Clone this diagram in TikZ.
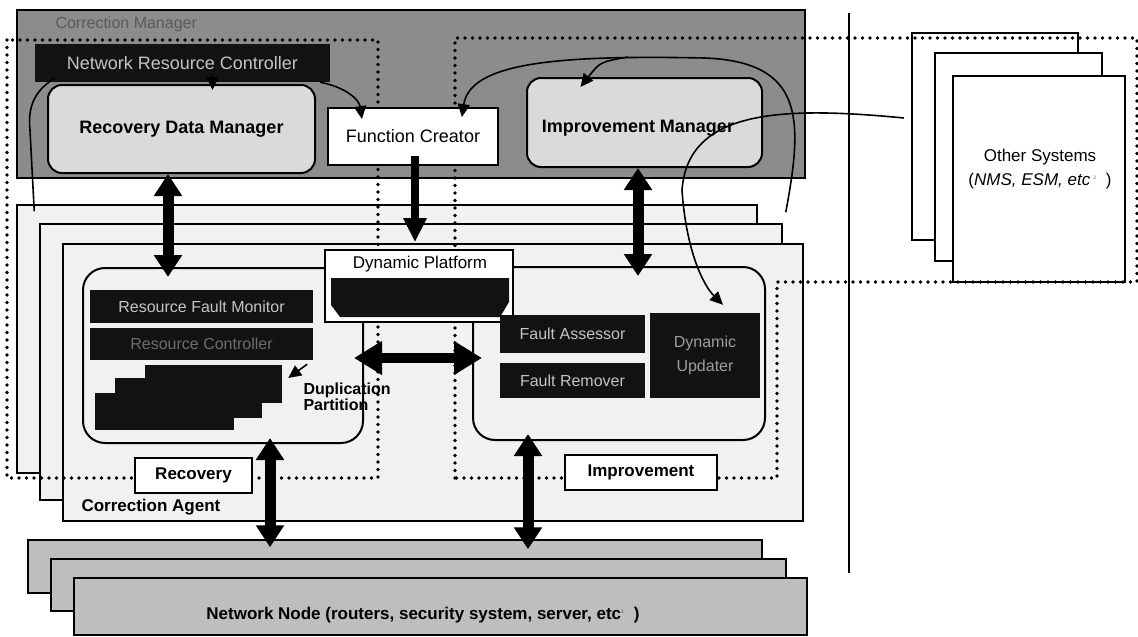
\documentclass[tikz,border=0pt]{standalone}
\usepackage{fontspec}
\setmainfont{Liberation Sans}
\usetikzlibrary{arrows.meta,calc}
\definecolor{cmgray}{HTML}{8C8C8C}
\definecolor{mgrlight}{HTML}{DADADA}
\definecolor{agentfill}{HTML}{F1F1F1}
\definecolor{nodegray}{HTML}{BEBEBE}
\definecolor{boxblack}{HTML}{121212}
\definecolor{boxtext}{HTML}{C4C4C4}
\definecolor{dimtext}{HTML}{6E6E6E}
\definecolor{titletext}{HTML}{5A5A5A}
\newcommand\fsz[2]{\fontsize{#1}{#2}\selectfont}
\begin{document}
\begin{tikzpicture}[x=1pt,y=-1pt,
  sz/.style 2 args={minimum width=#1, minimum height=#2, inner sep=0pt},
  cmbox/.style={draw=black, line width=2pt, fill=cmgray},
  agent/.style={draw=black, line width=1.5pt, fill=agentfill},
  netnode/.style={draw=black, line width=1.5pt, fill=nodegray},
  mgr/.style={draw=black, line width=2pt, fill=mgrlight, rounded corners=14pt},
  region/.style={draw=black, line width=2pt, rounded corners=22pt},
  whitebox/.style={draw=black, line width=1.8pt, fill=white},
  blackbox/.style={fill=boxblack, text=boxtext, font=\fsz{16}{19}},
  other/.style={draw=black, line width=2pt, fill=white},
  dotline/.style={line width=3.6pt, line cap=round, dash pattern=on 0pt off 7.5pt},
  bigdbl/.style={line width=11pt, {Triangle[length=22pt,width=27pt]}-{Triangle[length=22pt,width=27pt]}},
  bigone/.style={line width=8pt, -{Triangle[length=24pt,width=22pt]}},
  hdbl/.style={line width=10pt, {Triangle[length=28pt,width=32pt]}-{Triangle[length=28pt,width=32pt]}},
  thinarr/.style={line width=1.6pt, -{Triangle[length=13pt,width=12pt]}},
  thinline/.style={line width=1.6pt},
  lbl/.style={font=\fsz{17}{20}\bfseries},
  txt/.style={font=\fsz{17}{20}}
]
\useasboundingbox (0,0) rectangle (1138,637);

% Correction Manager background
\node[cmbox, sz={788}{168}] (cm) at (411,94) {};
\node[anchor=west, text=titletext, font=\fsz{16}{18}] (cmtitle) at (52,24) {Correction Manager};

% Correction Agent stack
\node[agent, sz={740}{268}] (a1) at (387,339) {};
\node[agent, sz={742}{276}] (a2) at (411,362) {};
\node[agent, sz={740}{277}] (a3) at (433,382.5) {};
\node[lbl, anchor=west] (catext) at (78,507) {Correction Agent};

% Network Node stack
\node[netnode, sz={734}{53}] (n1) at (395,566.5) {};
\node[netnode, sz={735}{52}] (n2) at (418.5,585) {};
\node[netnode, sz={733}{57}] (n3) at (440.5,606.5) {};
\node[lbl] (nntext) at (423,615) {Network Node (routers, security system, server, etc\textsuperscript{\textcolor{dimtext}{\tiny 1}}\ \ )};

% Other Systems stack
\node[other, sz={166}{207}] (o1) at (995,136.5) {};
\node[other, sz={167}{208}] (o2) at (1018.5,157) {};
\node[other, sz={172}{206}] (o3) at (1039,179) {};
\node[txt, align=center] (ostext) at (1040,169) {Other Systems\\[4pt](\textit{NMS, ESM, etc}\,\textsuperscript{\textcolor{dimtext}{\tiny 3}}\ \ )};

% separator
\coordinate (sept) at (849,13);
\coordinate (sepb) at (849,573);
\draw[line width=1.4pt] (sept) -- (sepb);

% dotted regions
\draw[dotline] (7,40) rectangle (378,478);
\draw[dotline] (455,478) -- (455,38) -- (1137,38) -- (1137,282) -- (777,282) -- (777,478) -- cycle;

% rounded regions in the agent
\node[region, sz={280}{175}] (rec) at (223,355.5) {};
\node[region, sz={292}{173}] (imp) at (619,353.5) {};

% manager contents
\node[fill=boxblack, sz={295}{38}, text=boxtext, font=\fsz{18}{20}] (nrc) at (182.5,63) {Network Resource Controller};
\node[mgr, sz={267}{88}, font=\fsz{18}{20}\bfseries] (rdm) at (181.5,129) {Recovery Data Manager};
\node[whitebox, sz={170}{57}, font=\fsz{18}{20}] (fc) at (413,136.5) {Function Creator};
\node[mgr, sz={235}{89}] (im) at (644.5,122.5) {};
\node[font=\fsz{18}{20}\bfseries] (imtext) at (638,128) {Improvement Manager};

% Dynamic Platform
\node[whitebox, sz={188}{72}] (dp) at (419,286) {};
\node[font=\fsz{17}{20}] (dptext) at (420,264) {Dynamic Platform};
\fill[boxblack] (331,278) -- (509,278) -- (509,302) -- (500,317) -- (340,317) -- (331,305) -- cycle;

% black boxes in recovery
\node[blackbox, sz={223}{33}] (rfm) at (201.5,306.5) {Resource Fault Monitor};
\node[blackbox, sz={223}{32}, text=dimtext] (rc) at (201.5,344) {Resource Controller};
\node[blackbox, sz={137}{38}] (s1) at (213.5,384) {};
\node[blackbox, sz={147}{40}] (s2) at (188.5,398) {};
\node[blackbox, sz={139}{37}] (s3) at (164.5,411.5) {};
\node[font=\fsz{16}{16}\bfseries, anchor=north west, align=left] (dup) at (300,379) {Duplication\\Partition};

% black boxes in improvement
\node[blackbox, sz={145}{38}] (fa) at (572.5,334) {Fault Assessor};
\node[blackbox, sz={145}{35}] (fr) at (572.5,380.5) {Fault Remover};
\node[blackbox, sz={110}{85}, align=center, text=boxtext!80!black, font=\fsz{16}{24}] (du) at (705,355.5) {Dynamic\\Updater};

% label boxes
\node[whitebox, sz={117}{35}, lbl] (reclbl) at (193.5,475.5) {Recovery};
\node[whitebox, sz={152}{35}, lbl] (implbl) at (641,472.5) {Improvement};

% thick arrows
\draw[bigdbl] ($(rdm.south)+(-13.5,0)$) -- ($(rec.north)+(-55,10)$);
\draw[bigone] ($(fc.south)+(2,-10)$) -- ($(dp.north)+(-4,-7)$);
\draw[bigdbl] ($(im.south)+(-6.5,0)$) -- ($(imp.north)+(19,10)$);
\draw[hdbl] ($(rec.east)+(-10,2.5)$) -- ($(imp.west)+(10,4.5)$);
\draw[bigdbl] ($(rec.south)+(47,-6)$) -- ($(n1.north)+(-125,8)$);
\draw[bigdbl] ($(imp.south)+(-91,-7)$) -- ($(n1.north)+(133,10)$);

% thin arrows and curves
\draw[thinarr] ($(nrc.south)+(30,-8)$) -- ($(rdm.north)+(31,6)$);
\draw[thinarr] ($(nrc.south east)+(-10,0)$) .. controls +(25,5) and +(-3,-20) .. ($(fc.north)+(-51,12)$);
\coordinate (arcpk) at (705,58);
\draw[thinarr] ($(a1.north east)+(28,8)$) .. controls (803,120) and (805,62) .. (arcpk) .. controls (560,55) and (470,62) .. ($(fc.north east)+(-37,10)$);
\coordinate (brst) at (628,57);
\draw[thinarr] (brst) .. controls (600,62) .. ($(im.north)+(-64,10)$);
\draw[thinline] ($(nrc.south west)+(20,-4)$) .. controls (32,92) and (28,110) .. (30,130) -- ($(a1.north west)+(18,7)$);
\draw[thinarr] ($(o1.west)+(-7,-18.5)$) .. controls (780,106) and (688,110) .. (682,190) .. controls (686,250) and (703,285) .. ($(du.north)+(18,-8)$);
\draw[thinarr] ($(rc.south east)+(-6,4)$) -- ($(s1.east)+(6,-6)$);
\end{tikzpicture}
\end{document}
